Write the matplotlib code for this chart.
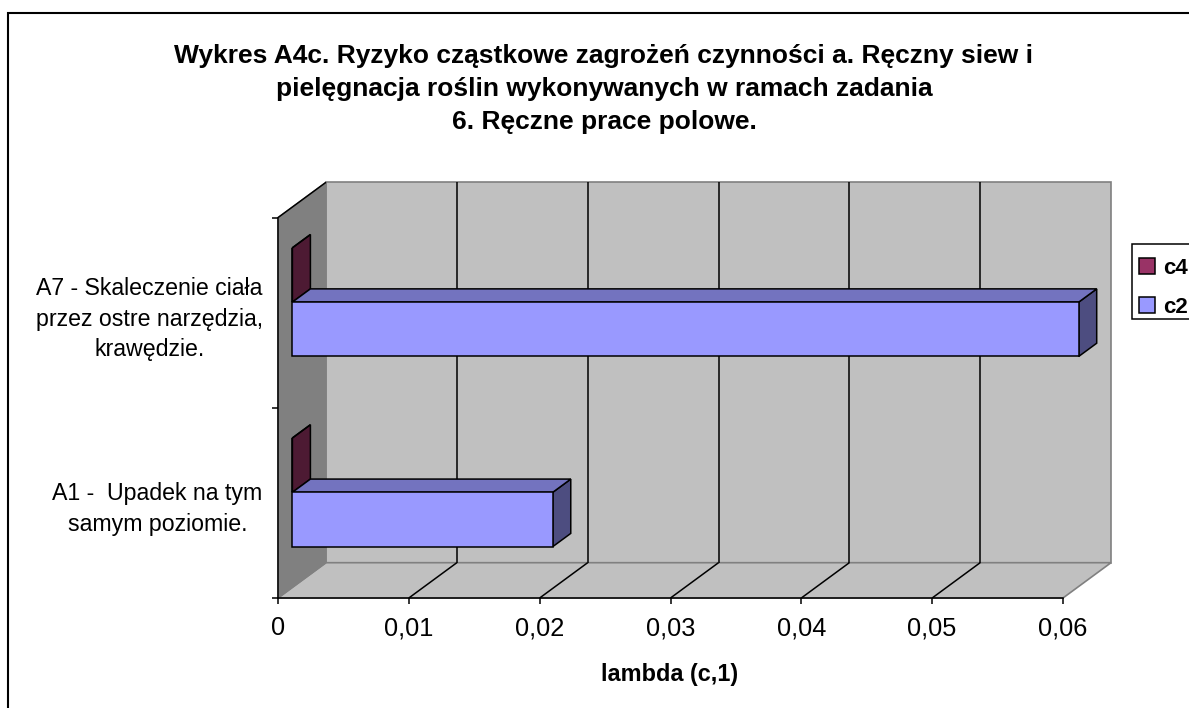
import matplotlib
matplotlib.use("Agg")
import matplotlib.pyplot as plt
from matplotlib.patches import Polygon, Patch, Rectangle

plt.rcParams['font.family'] = ['Liberation Sans', 'DejaVu Sans']

TITLE = "Wykres A4c. Ryzyko cząstkowe zagrożeń czynności a. Ręczny siew i\npielęgnacja roślin wykonywanych w ramach zadania\n6. Ręczne prace polowe."
categories = ["A1 -  Upadek na tym\nsamym poziomie.", "A7 - Skaleczenie ciała\nprzez ostre narzędzia,\nkrawędzie."]
c2_values = [0.0199, 0.0601]
c4_values = [0.0, 0.0]
x_ticks = [0, 0.01, 0.02, 0.03, 0.04, 0.05, 0.06]
x_tick_labels = ["0", "0,01", "0,02", "0,03", "0,04", "0,05", "0,06"]
y_ticks = [0, 1, 2]
x_label = "lambda (c,1)"

W, H = 1189, 708
fig = plt.figure(figsize=(W / 100, H / 100), dpi=100, facecolor='white')
L, R, T, B = 278, 1063, 217.6, 598
ax = fig.add_axes([L / W, 1 - B / H, (R - L) / W, (B - T) / H])
ax.patch.set_visible(False)
ax.set_xlim(0, 0.06)
ax.set_ylim(0, 2)

# oblique depth: a full-depth step in data units
DX = 48 / (R - L) * 0.06
DY = 35.3 / (B - T) * 2
EDGE = 1.1


def proj(v, c, d):
    return (v + DX * d, c + DY * d)


def poly(points, **kw):
    ax.add_patch(Polygon([proj(*p) for p in points], closed=True, clip_on=False, **kw))


def seg(p, q, color, lw=EDGE, z=2):
    a, b = proj(*p), proj(*q)
    ax.plot([a[0], b[0]], [a[1], b[1]], color=color, lw=lw, clip_on=False, zorder=z,
            solid_capstyle='butt')


XMAX, YMAX = x_ticks[-1], y_ticks[-1]
GREY = '#C0C0C0'
DARK = '#808080'
# walls
poly([(0, 0, 1), (XMAX, 0, 1), (XMAX, YMAX, 1), (0, YMAX, 1)], fc=GREY, ec=DARK, lw=1.2, zorder=1)
poly([(0, 0, 0), (XMAX, 0, 0), (XMAX, 0, 1), (0, 0, 1)], fc=GREY, ec=DARK, lw=1.2, zorder=1)
poly([(0, 0, 0), (0, 0, 1), (0, YMAX, 1), (0, YMAX, 0)], fc=DARK, ec=DARK, lw=1.0, zorder=1)
# gridlines on floor and back wall
for t in x_ticks[1:-1]:
    seg((t, 0, 0), (t, 0, 1), 'black')
    seg((t, 0, 1), (t, YMAX, 1), 'black')
seg((0, YMAX, 0), (0, YMAX, 1), 'black')

# bars
N = 2
GAP = 1.5
bw = 1 / (N + GAP)
D0, D1 = 0.30, 0.675
series = [(c2_values, '#9999FF', '#7373BF', '#4D4D80', 0),
          (c4_values, '#993366', '#732650', '#4D1A33', 1)]
for i in (1, 0):
    for vals, front, top, side, k in series:
        v = vals[i]
        y0 = i + GAP / 2 * bw + k * bw
        y1 = y0 + bw
        # zero-length bars only show their end face
        poly([(v, y0, D0), (v, y0, D1), (v, y1, D1), (v, y1, D0)],
             fc=side, ec='black', lw=EDGE, zorder=3 + (1 - k))
        poly([(0, y1, D0), (v, y1, D0), (v, y1, D1), (0, y1, D1)],
             fc=top, ec='black', lw=EDGE, zorder=3 + (1 - k))
        ax.barh(y0 + DY * D0, v, height=bw, left=DX * D0, align='edge', color=front,
                edgecolor='black', linewidth=EDGE, zorder=4 + (1 - k), clip_on=False)

# axes
for s in ('top', 'right'):
    ax.spines[s].set_visible(False)
for s in ('left', 'bottom'):
    ax.spines[s].set_linewidth(EDGE)
    ax.spines[s].set_zorder(6)
ax.set_xticks(x_ticks, x_tick_labels, fontsize=18.3)
ax.set_yticks(y_ticks, [''] * len(y_ticks))
ax.tick_params(axis='both', which='major', length=4, width=EDGE, color='black')
ax.tick_params(axis='x', pad=9)
ax.set_yticks([i + 0.5 for i in range(len(categories))], categories, minor=True)
ax.tick_params(axis='y', which='minor', length=0, pad=11, labelsize=16.7)
for lab in ax.get_yticklabels(minor=True):
    lab.set_multialignment('center')
    lab.set_linespacing(1.43)
fig.text(670 / W, 1 - 675 / H, x_label, ha='center', va='center', fontsize=16.9, fontweight='bold')
fig.text(604 / W, 1 - 89 / H, TITLE, ha='center', va='center', fontsize=19, fontweight='bold',
         linespacing=1.47)

# legend frame runs past the right edge of the picture
fig.add_artist(Rectangle((1131.7 / W, 1 - 319 / H), 0.1, 75 / H, transform=fig.transFigure,
                         fc='white', ec='black', lw=EDGE))
leg = fig.legend(handles=[Patch(fc='#993366', ec='black', lw=EDGE, label='c4'),
                          Patch(fc='#9999FF', ec='black', lw=EDGE, label='c2')],
                 loc='upper left', bbox_to_anchor=(1131.7 / W, 1 - 250.5 / H), ncol=1,
                 prop={'weight': 'bold', 'size': 16}, frameon=False,
                 handlelength=0.72, handleheight=0.72, handletextpad=0.36,
                 labelspacing=0.8, borderaxespad=0, borderpad=0.34)

fig.add_artist(Rectangle((8 / W, -0.05), 1.2, 1 - 13.3 / H + 0.05, transform=fig.transFigure,
                         fill=False, ec='black', lw=1.5))

fig.savefig('out.png', dpi=100)
